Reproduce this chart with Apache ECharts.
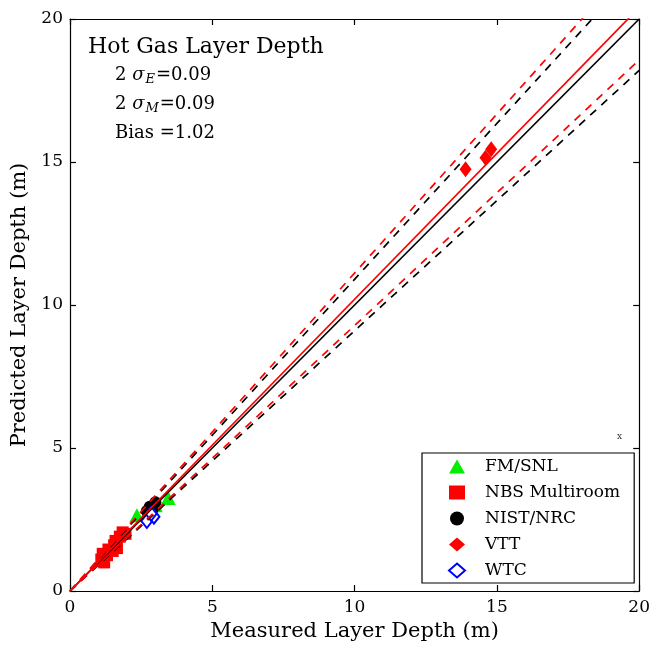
<!DOCTYPE html>
<html><head><meta charset="utf-8">
<script src="https://cdn.jsdelivr.net/npm/echarts@6/dist/echarts.min.js"></script>
<style>html,body{margin:0;padding:0;background:#fff}#c{width:653px;height:648px}</style>
</head><body><div id="c"></div>
<script>
// ---- data ----
const seriesNames = ['FM/SNL', 'NBS Multiroom', 'NIST/NRC', 'VTT', 'WTC'];
const fmSnl = [[2.35, 2.65], [3.0, 3.0], [3.45, 3.25]];
const nbsMultiroom = [[1.1, 1.1], [1.15, 1.3], [1.2, 1.0], [1.3, 1.25], [1.35, 1.45], [1.5, 1.4],
  [1.55, 1.6], [1.6, 1.75], [1.65, 1.5], [1.75, 1.9], [1.85, 2.05], [1.95, 2.0]];
const nistNrc = [[2.7, 2.8], [2.8, 2.95], [2.9, 2.85], [3.0, 3.1], [2.75, 2.7]];
const vtt = [[13.9, 14.75], [14.6, 15.15], [14.8, 15.45]];
const wtc = [[2.7, 2.45], [2.95, 2.6], [2.85, 2.7]];
const sigmaE = 0.09, sigmaM = 0.09, bias = 1.02;
const axisMax = 20;
const tickStep = 5;

const font = '"DejaVu Serif", "Liberation Serif", serif';
function line(slope, color, dashed) {
  return {
    type: 'line', data: [[0, 0], [axisMax, axisMax * slope]], symbol: 'none', silent: true,
    lineStyle: { color: color, width: 1.7, type: dashed ? [8, 7] : 'solid' }, z: 5, clip: true
  };
}
const chart = echarts.init(document.getElementById('c'), null, { renderer: 'canvas' });
const axisCommon = {
  type: 'value', min: 0, max: axisMax, interval: tickStep,
  axisLine: { show: true, onZero: false, lineStyle: { color: '#000', width: 1.2 } },
  axisTick: { show: true, inside: true, length: 6, lineStyle: { color: '#000', width: 1.2 } },
  splitLine: { show: false },
  axisLabel: { fontFamily: font, fontSize: 17, color: '#000' }
};
const subRich = {
  i: { fontFamily: font, fontSize: 18, fontStyle: 'italic', lineHeight: 22 },
  n: { fontFamily: font, fontSize: 18, lineHeight: 22 },
  sub: { fontFamily: font, fontSize: 13, fontStyle: 'italic', lineHeight: 22, verticalAlign: 'bottom', padding: [6, 1, 0, 1] }
};
chart.setOption({
  animation: false,
  backgroundColor: '#fff',
  grid: { left: 70, right: 12, top: 19, bottom: 57 },
  xAxis: [
    Object.assign({}, axisCommon, { position: 'bottom', name: 'Measured Layer Depth (m)', nameLocation: 'middle', nameGap: 28,
      nameTextStyle: { fontFamily: font, fontSize: 21, color: '#000' }, axisLabel: Object.assign({}, axisCommon.axisLabel, { margin: 8 }) }),
    Object.assign({}, axisCommon, { position: 'top', axisLabel: { show: false } })
  ],
  yAxis: [
    Object.assign({}, axisCommon, { position: 'left', name: 'Predicted Layer Depth (m)', nameLocation: 'middle', nameGap: 36,
      nameTextStyle: { fontFamily: font, fontSize: 21, color: '#000' }, axisLabel: Object.assign({}, axisCommon.axisLabel, { margin: 7 }) }),
    Object.assign({}, axisCommon, { position: 'right', axisLabel: { show: false } })
  ],
  legend: {
    data: seriesNames, orient: 'vertical', left: 422, top: 453,
    backgroundColor: '#fff', borderColor: '#000', borderWidth: 1.2, borderRadius: 0,
    padding: [5, 14, 4, 26], itemGap: 9, itemWidth: 16, itemHeight: 14,
    textStyle: { fontFamily: font, fontSize: 17, color: '#000', padding: [0, 0, 0, 15] }
  },
  graphic: [
    { type: 'text', left: 88, top: 36, style: { text: 'Hot Gas Layer Depth', font: '22px ' + font, fill: '#000' } },
    { type: 'text', left: 115, top: 66, style: { text: '{n|2 }{i|σ}{sub|E}{n|=' + sigmaE.toFixed(2) + '}', rich: subRich, fill: '#000' } },
    { type: 'text', left: 115, top: 95, style: { text: '{n|2 }{i|σ}{sub|M}{n|=' + sigmaM.toFixed(2) + '}', rich: subRich, fill: '#000' } },
    { type: 'text', left: 115, top: 124, style: { text: '{n|Bias =' + bias.toFixed(2) + '}', rich: subRich, fill: '#000' } },
    { type: 'text', left: 617, top: 432, style: { text: 'x', font: '9px ' + font, fill: '#333' } }
  ],
  series: [
    { name: 'FM/SNL', type: 'scatter', data: fmSnl, symbol: 'triangle', symbolSize: [15, 14], itemStyle: { color: '#00ee00', opacity: 1 }, z: 2 },
    { name: 'NBS Multiroom', type: 'scatter', data: nbsMultiroom, symbol: 'rect', symbolSize: 12, itemStyle: { color: '#ff0000', opacity: 1 }, z: 2 },
    { name: 'NIST/NRC', type: 'scatter', data: nistNrc, symbol: 'circle', symbolSize: 12, itemStyle: { color: '#000', opacity: 1 }, z: 2 },
    { name: 'VTT', type: 'scatter', data: vtt, symbol: 'diamond', symbolSize: [12, 16], itemStyle: { color: '#ff0000', opacity: 1 }, z: 2 },
    { name: 'WTC', type: 'scatter', data: wtc, symbol: 'emptyDiamond', symbolSize: [11, 14], itemStyle: { color: '#0000ff', borderWidth: 2, opacity: 1 }, z: 2 },
    line(1, '#000', false),
    line(1 + sigmaE, '#000', true),
    line(1 - sigmaE, '#000', true),
    line(bias, '#ff0000', false),
    line(bias * (1 + sigmaM), '#ff0000', true),
    line(bias * (1 - sigmaM), '#ff0000', true)
  ]
});
</script></body></html>
